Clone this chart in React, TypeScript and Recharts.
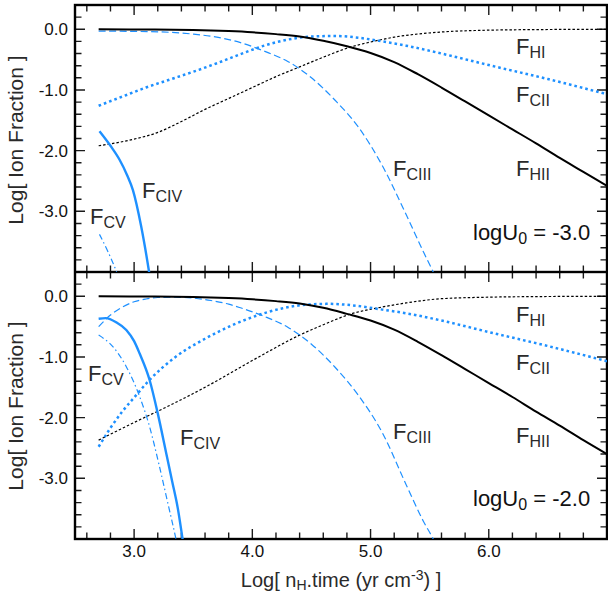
import React from 'react';
import { LineChart, Line, XAxis, YAxis, ReferenceLine } from 'recharts';

// ---------- axis ticks ----------
const X_TICKS = [2.6, 2.8, 3.0, 3.2, 3.4, 3.6, 3.8, 4.0, 4.2, 4.4, 4.6, 4.8, 5.0, 5.2, 5.4, 5.6, 5.8, 6.0, 6.2, 6.4, 6.6, 6.8];
const Y_TICKS = [-3.8, -3.6, -3.4, -3.2, -3.0, -2.8, -2.6, -2.4, -2.2, -2.0, -1.8, -1.6, -1.4, -1.2, -1.0, -0.8, -0.6, -0.4, -0.2, 0.0, 0.2];
const X_LABEL_TICKS = [3.0, 4.0, 5.0, 6.0];
const Y_LABEL_TICKS = [-3.0, -2.0, -1.0, 0.0];
const X_DOMAIN = [2.5, 7.0];
const Y_DOMAIN = [-4.0, 0.4];

// ---------- top panel: logU0 = -3.0 ----------
const topHI = [[2.7, 0], [3.0, -0.003], [3.5, -0.012], [3.8, -0.03], [4.0, -0.05], [4.2, -0.08], [4.4, -0.12], [4.6, -0.19], [4.8, -0.28], [5.0, -0.39], [5.2, -0.54], [5.4, -0.74], [5.6, -0.96], [5.8, -1.19], [6.0, -1.42], [6.2, -1.65], [6.4, -1.88], [6.6, -2.12], [6.8, -2.35], [7.0, -2.58]];
const topHII = [[2.7, -1.92], [3.0, -1.81], [3.2, -1.7], [3.4, -1.52], [3.6, -1.32], [3.8, -1.14], [4.0, -0.96], [4.2, -0.78], [4.4, -0.62], [4.6, -0.46], [4.82, -0.3], [5.0, -0.21], [5.2, -0.13], [5.6, -0.045], [6.0, -0.015], [6.5, -0.004], [7.0, 0]];
const topCII = [[2.7, -1.26], [2.9, -1.11], [3.1, -0.96], [3.3, -0.83], [3.5, -0.7], [3.7, -0.56], [3.9, -0.41], [4.1, -0.27], [4.3, -0.17], [4.5, -0.12], [4.7, -0.11], [4.9, -0.14], [5.1, -0.2], [5.3, -0.27], [5.6, -0.4], [6.0, -0.59], [6.5, -0.82], [7.0, -1.07]];
const topCIII = [[2.7, -0.03], [3.0, -0.035], [3.3, -0.05], [3.5, -0.08], [3.7, -0.13], [3.9, -0.22], [4.1, -0.36], [4.3, -0.53], [4.5, -0.8], [4.7, -1.17], [4.9, -1.62], [5.1, -2.25], [5.3, -3.05], [5.45, -3.68], [5.53, -4.0], [5.6, -4.3]];
const topCIV = [[2.707, -1.68], [2.8, -1.92], [2.877, -2.15], [2.94, -2.4], [2.99, -2.65], [3.06, -3.25], [3.125, -3.98], [3.15, -4.3]];
const topCV = [[2.707, -3.38], [2.78, -3.67], [2.85, -3.99], [2.88, -4.15]];

// ---------- bottom panel: logU0 = -2.0 ----------
const botHI = [[2.7, 0], [3.0, -0.003], [3.5, -0.012], [3.8, -0.03], [4.0, -0.05], [4.2, -0.08], [4.4, -0.12], [4.6, -0.19], [4.8, -0.29], [5.0, -0.4], [5.2, -0.55], [5.4, -0.75], [5.6, -0.97], [5.8, -1.2], [6.0, -1.43], [6.2, -1.66], [6.4, -1.9], [6.6, -2.13], [6.8, -2.37], [7.0, -2.6]];
const botHII = [[2.7, -2.37], [3.0, -2.08], [3.3, -1.8], [3.6, -1.5], [3.9, -1.17], [4.1, -0.95], [4.4, -0.64], [4.6, -0.47], [4.82, -0.3], [5.1, -0.177], [5.3, -0.11], [5.6, -0.04], [6.0, -0.015], [6.5, -0.004], [7.0, 0]];
const botCII = [[2.7, -2.48], [2.8, -2.17], [2.9, -1.9], [3.0, -1.67], [3.13, -1.38], [3.35, -1.0], [3.6, -0.7], [3.85, -0.46], [4.05, -0.31], [4.25, -0.2], [4.45, -0.14], [4.65, -0.125], [4.85, -0.15], [5.1, -0.22], [5.3, -0.28], [5.6, -0.4], [6.0, -0.59], [6.5, -0.82], [7.0, -1.07]];
const botCIII = [[2.7, -0.5], [2.8, -0.31], [2.9, -0.18], [3.0, -0.09], [3.1, -0.045], [3.2, -0.02], [3.35, -0.015], [3.5, -0.03], [3.65, -0.07], [3.8, -0.13], [3.9, -0.19], [4.1, -0.33], [4.3, -0.51], [4.5, -0.79], [4.7, -1.17], [4.9, -1.64], [5.1, -2.25], [5.3, -3.1], [5.45, -3.72], [5.53, -4.0], [5.6, -4.3]];
const botCIV = [[2.7, -0.37], [2.76, -0.36], [2.85, -0.43], [2.934, -0.556], [3.0, -0.74], [3.046, -0.94], [3.131, -1.38], [3.2, -1.93], [3.272, -2.59], [3.323, -3.06], [3.37, -3.5], [3.41, -4.0], [3.43, -4.25]];
const botCV = [[2.7, -0.64], [2.82, -0.83], [2.934, -1.16], [3.046, -1.65], [3.131, -2.15], [3.215, -2.81], [3.29, -3.45], [3.354, -4.0], [3.38, -4.25]];

const BLUE = '#1E90FF';
const FONT = '"Liberation Sans", Arial, Helvetica, sans-serif';
const TXT = '#2a2a2a';

const toPts = (a: number[][]) => a.map(([x, y]) => ({ x, y }));
const isMajor = (v: number) => Math.abs(v - Math.round(v)) < 1e-6;
const tickLen = (v: number) => (isMajor(v) ? 10 : 6.5);

const XLabelTick = (props: any) => {
  const { x, y, payload } = props;
  const v = Number(payload.value);
  return <text x={x} y={y + 18} textAnchor="middle" fontSize={17} fill="#111" fontFamily={FONT}>{v.toFixed(1)}</text>;
};
const YLabelTick = (props: any) => {
  const { x, y, payload } = props;
  const v = Number(payload.value);
  return <text x={x - 7} y={y} dy="0.36em" textAnchor="end" fontSize={17} fill="#111" fontFamily={FONT}>{v.toFixed(1)}</text>;
};

type Series = { HI: number[][]; HII: number[][]; CII: number[][]; CIII: number[][]; CIV: number[][]; CV: number[][] };

// Draws the whole frame + inward tick comb. The diagonal reference segment runs from
// (xmin, ymin) to (xmax, ymax), so its pixel endpoints (from the chart scales) are the plot corners.
function FrameComb(props: any) {
  const { x1, y1, x2, y2 } = props;
  const L = Math.min(x1, x2), R = Math.max(x1, x2);
  const T = Math.min(y1, y2), B = Math.max(y1, y2);
  const fx = (v: number) => L + ((v - X_DOMAIN[0]) / (X_DOMAIN[1] - X_DOMAIN[0])) * (R - L);
  const fy = (v: number) => B - ((v - Y_DOMAIN[0]) / (Y_DOMAIN[1] - Y_DOMAIN[0])) * (B - T);
  let d = '';
  X_TICKS.forEach((v) => {
    const px = fx(v).toFixed(2);
    const l = tickLen(v);
    d += `M${px},${B}L${px},${B - l}M${px},${T}L${px},${T + l}`;
  });
  Y_TICKS.forEach((v) => {
    const py = fy(v).toFixed(2);
    const l = tickLen(v);
    d += `M${L},${py}L${L + l},${py}M${R},${py}L${R - l},${py}`;
  });
  return (
    <g>
      <path d={d} stroke="#1a1a1a" strokeWidth={1.4} fill="none" />
      <rect x={L} y={T} width={R - L} height={B - T} stroke="#000" strokeWidth={2.4} fill="none" />
    </g>
  );
}

function Panel({ s, height, bottomAxisHeight, marginTop, showXLabels }: { s: Series; height: number; bottomAxisHeight: number; marginTop: number; showXLabels: boolean }) {
  return (
    <LineChart width={608} height={height} margin={{ top: marginTop, right: 1, bottom: 0, left: 0 }}>
      <XAxis type="number" dataKey="x" domain={X_DOMAIN} allowDataOverflow ticks={X_LABEL_TICKS} interval={0}
        orientation="bottom" height={bottomAxisHeight} hide={!showXLabels} tickSize={0} tickMargin={0} tickLine={false}
        axisLine={false} tick={<XLabelTick />} />
      <YAxis type="number" domain={Y_DOMAIN} allowDataOverflow ticks={Y_LABEL_TICKS} interval={0}
        orientation="left" width={75} tickSize={0} tickMargin={0} tickLine={false}
        axisLine={false} tick={<YLabelTick />} />
      <ReferenceLine segment={[{ x: X_DOMAIN[0], y: Y_DOMAIN[0] }, { x: X_DOMAIN[1], y: Y_DOMAIN[1] }]} ifOverflow="visible" shape={FrameComb} />
      <Line data={toPts(s.HII)} dataKey="y" type="monotone" stroke="#000" strokeWidth={1.2} strokeDasharray="2.5 2" dot={false} isAnimationActive={false} />
      <Line data={toPts(s.CII)} dataKey="y" type="monotone" stroke={BLUE} strokeWidth={2.5} strokeDasharray="2.6 3" dot={false} isAnimationActive={false} />
      <Line data={toPts(s.CIII)} dataKey="y" type="monotone" stroke={BLUE} strokeWidth={1.2} strokeDasharray="7 3.5" dot={false} isAnimationActive={false} />
      <Line data={toPts(s.CV)} dataKey="y" type="monotone" stroke={BLUE} strokeWidth={1.2} strokeDasharray="6 3 1.5 3" dot={false} isAnimationActive={false} />
      <Line data={toPts(s.CIV)} dataKey="y" type="monotone" stroke={BLUE} strokeWidth={2.4} dot={false} isAnimationActive={false} />
      <Line data={toPts(s.HI)} dataKey="y" type="monotone" stroke="#000" strokeWidth={2} dot={false} isAnimationActive={false} />
    </LineChart>
  );
}

function FLabel({ x, y, sub }: { x: number; y: number; sub: string }) {
  return (
    <text x={x} y={y} fontSize={22} fill={TXT} fontFamily={FONT}>
      F<tspan fontSize={16} dy={3.5}>{sub}</tspan>
    </text>
  );
}

function ULabel({ x, y, val }: { x: number; y: number; val: string }) {
  return (
    <text x={x} y={y} fontSize={22} fill="#111" fontFamily={FONT}>
      logU<tspan fontSize={16} dy={3.5}>0</tspan><tspan dy={-3.5}>{' = ' + val}</tspan>
    </text>
  );
}

export default function App() {
  const top: Series = { HI: topHI, HII: topHII, CII: topCII, CIII: topCIII, CIV: topCIV, CV: topCV };
  const bot: Series = { HI: botHI, HII: botHII, CII: botCII, CIII: botCIII, CIV: botCIV, CV: botCV };
  return (
    <div style={{ position: 'absolute', left: 0, top: 0, width: 608, height: 596, background: '#fff', fontFamily: FONT }}>
      <div style={{ position: 'absolute', left: 0, top: 0 }}>
        <Panel s={top} height={272} bottomAxisHeight={0} marginTop={5} showXLabels={false} />
      </div>
      <div style={{ position: 'absolute', left: 0, top: 272 }}>
        <Panel s={bot} height={300} bottomAxisHeight={33} marginTop={0} showXLabels={true} />
      </div>
      <svg width={608} height={596} style={{ position: 'absolute', left: 0, top: 0, pointerEvents: 'none' }}>
        <FLabel x={516} y={54} sub="HI" />
        <FLabel x={516} y={102} sub="CII" />
        <FLabel x={516} y={176} sub="HII" />
        <FLabel x={393} y={176} sub="CIII" />
        <FLabel x={142} y={198} sub="CIV" />
        <FLabel x={90} y={224} sub="CV" />
        <ULabel x={473} y={240} val="-3.0" />

        <FLabel x={516} y={322} sub="HI" />
        <FLabel x={516} y={370} sub="CII" />
        <FLabel x={516} y={443} sub="HII" />
        <FLabel x={393} y={439} sub="CIII" />
        <FLabel x={180} y={445} sub="CIV" />
        <FLabel x={88} y={381} sub="CV" />
        <ULabel x={473} y={506} val="-2.0" />

        <text transform="translate(23,140) rotate(-90)" textAnchor="middle" fontSize={21} fill={TXT} fontFamily={FONT}>Log[ Ion Fraction ]</text>
        <text transform="translate(23,406) rotate(-90)" textAnchor="middle" fontSize={21} fill={TXT} fontFamily={FONT}>Log[ Ion Fraction ]</text>
        <text x={341} y={587} textAnchor="middle" fontSize={20} fill={TXT} fontFamily={FONT}>
          Log[ n<tspan fontSize={14} dy={3}>H</tspan><tspan dy={-3}>.time (yr cm</tspan><tspan fontSize={14} dy={-7}>-3</tspan><tspan dy={7}>) ]</tspan>
        </text>
      </svg>
    </div>
  );
}
